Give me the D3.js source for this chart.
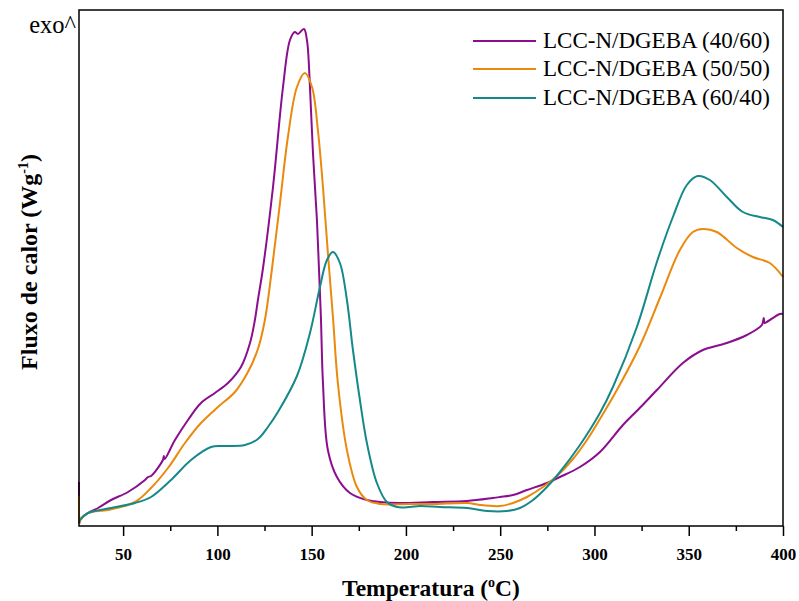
<!DOCTYPE html>
<html>
<head>
<meta charset="utf-8">
<script src="https://cdn.jsdelivr.net/npm/d3@7"></script>
<style>
  html, body { margin: 0; padding: 0; background: #fff; }
  svg { display: block; }
</style>
</head>
<body>
<svg id="chart" width="799" height="601"></svg>
<script>
// ---- Data (temperature °C, heat flow, arbitrary units; exo up) ----
const seriesNames = ["LCC-N/DGEBA (40/60)", "LCC-N/DGEBA (50/50)", "LCC-N/DGEBA (60/40)"];

const s4060 = [[26.6,44],[26.8,3],[27.1,6],[31.4,13],[36.7,18],[43.6,26],[52.6,34],[61.6,46],[63.2,49],[64.8,50],[71.1,66],[71.6,70],[72,67],[77.5,86],[84.4,106],[91.3,123],[98.7,133],[105.6,143],[112.5,159],[117.3,183],[119.9,206],[121.5,226],[124.2,258],[129.5,339],[134.8,439],[138.5,486],[141.1,494],[142.7,492],[145.9,497],[147.5,486],[149.1,439],[150.7,373],[152.8,306],[153.9,256],[154.9,209],[156.0,143],[158.6,76],[163.4,49],[170.3,33],[179.3,26],[186.2,24],[196.8,23],[214.3,24],[232.4,25],[246.1,28],[249.9,29],[256.8,31],[264.2,36],[274.8,43],[281.7,49],[292.3,59],[302.9,74],[315.1,101],[324.0,118],[333.1,136],[346.9,163],[357.5,176],[370.2,183],[380.8,191],[388.8,201],[389.8,208],[390.2,203],[391.4,204],[398.3,212],[400,212]];

const s5050 = [[26.6,30],[26.8,3],[27.1,5],[31.4,13],[42.0,16],[56.3,24],[64.8,38],[73.8,58],[82.8,83],[91.3,103],[100.3,119],[109.3,134],[116.2,154],[121.5,177],[125.2,206],[129.0,258],[133.2,323],[137.4,389],[142.2,439],[146.4,453],[150.2,439],[153.3,396],[156.0,339],[158.6,273],[161.3,209],[163.9,143],[168.7,76],[174.0,39],[179.3,26],[186.2,22],[202.1,22],[214.3,22],[232.4,23],[239.2,21],[249.9,20],[256.8,23],[264.2,29],[272.7,39],[280.1,50],[288.6,67],[296.0,86],[302.9,107],[311.9,136],[324.1,180],[334.7,228],[345.3,276],[352.2,294],[357.5,297],[364.9,294],[375.5,278],[384.0,269],[393.0,263],[400,249]];

const s6040 = [[26.6,3],[27.1,6],[31.4,13],[43.6,18],[56.3,23],[64.8,29],[75.4,46],[86.0,66],[96.6,79],[104.0,80],[114.6,81],[121.5,87],[126.8,99],[132.1,114],[142.2,150],[149.1,193],[154.4,239],[158.1,266],[161.3,274],[165.0,263],[168.7,226],[171.9,176],[175.6,126],[179.3,83],[184.6,43],[189.9,24],[195.2,19],[202.1,19],[207.4,20],[218.0,19],[232.4,18],[243.0,15],[253.6,15],[260.5,18],[267.4,26],[274.8,39],[281.7,54],[292.3,81],[302.9,113],[309.8,139],[322.5,199],[333.1,264],[341.6,309],[349.0,341],[354.8,350],[361.2,346],[370.2,329],[378.7,314],[387.7,309],[394.6,306],[400,299]];

const xMajorTicks = [50, 100, 150, 200, 250, 300, 350, 400];
const xMinorTicks = [75, 125, 175, 225, 275, 325, 375];
const colors = ["#8B0E8E", "#EA890C", "#15898A"];

// ---- Layout ----
const svg = d3.select("#chart");
const L = 79, R = 783, T = 10, B = 526;
const x = d3.scaleLinear().domain([26.6, 400]).range([L, R]);
const y = d3.scaleLinear().domain([0, 516]).range([B, T]);
const serif = "'Liberation Serif', 'Times New Roman', serif";

// curves
const line = d3.line().x(d => x(d[0])).y(d => y(d[1])).curve(d3.curveCatmullRom.alpha(0.5));
const allSeries = [s4060, s5050, s6040];
svg.append("g").selectAll("path").data(allSeries).join("path")
  .attr("d", line)
  .attr("fill", "none")
  .attr("stroke", (d, i) => colors[i])
  .attr("stroke-width", 2)
  .attr("stroke-linejoin", "round");

// frame
svg.append("rect").attr("x", L).attr("y", T).attr("width", R - L).attr("height", B - T)
  .attr("fill", "none").attr("stroke", "#000").attr("stroke-width", 1.5);

// bottom axis
const axMinor = svg.append("g").attr("transform", `translate(0,${B})`)
  .call(d3.axisBottom(x).tickValues(xMinorTicks).tickSize(5).tickFormat(""));
const axMajor = svg.append("g").attr("transform", `translate(0,${B})`)
  .call(d3.axisBottom(x).tickValues(xMajorTicks).tickSize(10).tickPadding(12).tickFormat(d3.format("d")));
[axMinor, axMajor].forEach(g => {
  g.select(".domain").remove();
  g.selectAll("line").attr("stroke", "#000").attr("stroke-width", 1.5);
});
axMajor.selectAll("text")
  .attr("font-family", serif).attr("font-weight", "bold").attr("font-size", 17).attr("fill", "#000");

// x title
const xt = svg.append("text").attr("x", 431).attr("y", 596).attr("text-anchor", "middle")
  .attr("font-family", serif).attr("font-weight", "bold").attr("font-size", 23.5).attr("fill", "#000");
xt.append("tspan").text("Temperatura (");
xt.append("tspan").text("o").attr("font-size", 14).attr("dy", -9);
xt.append("tspan").text("C)").attr("dy", 9);

// y title
const yt = svg.append("text").attr("transform", "translate(37,262) rotate(-90)").attr("text-anchor", "middle")
  .attr("font-family", serif).attr("font-weight", "bold").attr("font-size", 24).attr("fill", "#000");
yt.append("tspan").text("Fluxo de calor (Wg");
yt.append("tspan").text("-1").attr("font-size", 14).attr("dy", -9);
yt.append("tspan").text(")").attr("dy", 9);

// exo label
svg.append("text").attr("x", 76).attr("y", 33).attr("text-anchor", "end")
  .attr("font-family", serif).attr("font-size", 24.5).attr("fill", "#000").text("exo^");

// legend
const legY = [41, 69, 98];
const leg = svg.append("g").selectAll("g").data(seriesNames).join("g")
  .attr("transform", (d, i) => `translate(0,${legY[i]})`);
leg.append("line").attr("x1", 473).attr("x2", 536).attr("y1", 0).attr("y2", 0)
  .attr("stroke", (d, i) => colors[i]).attr("stroke-width", 2);
leg.append("text").attr("x", 543).attr("y", 7)
  .attr("font-family", serif).attr("font-size", 23).attr("fill", "#000").text(d => d);
</script>
</body>
</html>
